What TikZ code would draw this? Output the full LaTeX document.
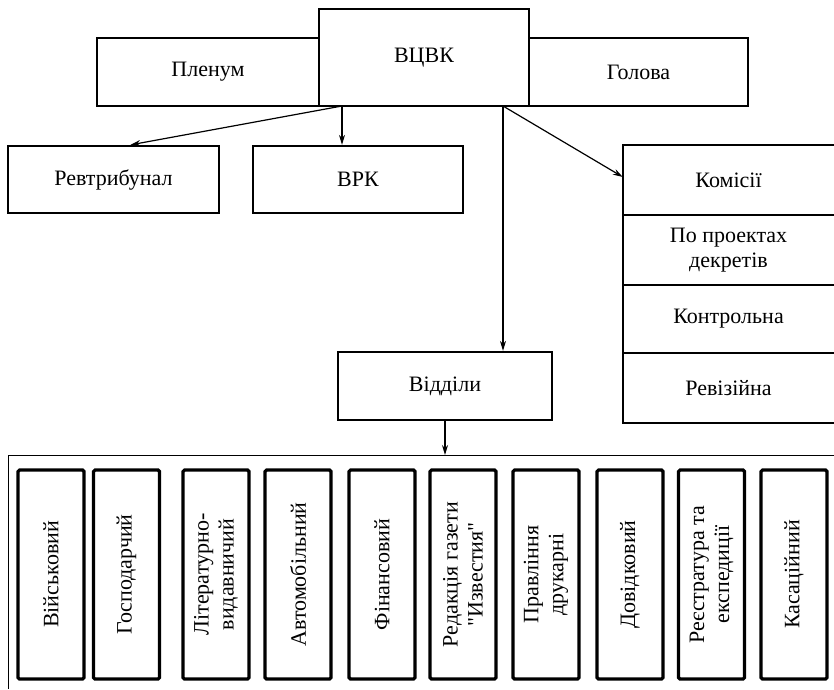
\documentclass[tikz,border=0pt]{standalone}
\usepackage{fontspec}
\setmainfont{Liberation Serif}
\usetikzlibrary{arrows.meta}
\begin{document}
\begin{tikzpicture}[x=1pt, y=-1pt, >={Stealth[length=10pt,width=6pt]},
  box/.style={draw, rectangle, line width=2.3pt, font=\fontsize{22}{25}\selectfont, inner sep=0pt},
  dept/.style={draw, rectangle, line width=3.2pt, rounded corners=1.5pt, rotate=90, minimum width=209pt, minimum height=66pt, align=center, font=\fontsize{22}{25}\selectfont, inner sep=0pt},
  cell/.style={rectangle, minimum width=211pt, align=center, font=\fontsize{22}{25}\selectfont, inner sep=0pt}]
\useasboundingbox (0,0) rectangle (834,689);
\node[box, minimum width=222pt, minimum height=68pt] (plenum) at (208,72) {Пленум};
\node[box, minimum width=219pt, minimum height=68pt] (holova) at (638.5,72) {Голова};
\node[box, minimum width=210pt, minimum height=97pt, fill=white] (vcvk) at (424,57.5) {ВЦВК};
\node[box, minimum width=211pt, minimum height=67pt] (revtr) at (113.5,179.5) {Ревтрибунал};
\node[box, minimum width=210pt, minimum height=67pt] (vrk) at (358,179.5) {ВРК};
\node[box, minimum width=214pt, minimum height=68pt] (vidily) at (445,386) {Відділи};

% комісії
\node[cell, minimum height=70pt] (kom) at (728.5,180) {Комісії};
\node[cell, minimum height=70pt] (kproj) at (728.5,250) {По проектах\\декретів};
\node[cell, minimum height=68pt] (kkontr) at (728.5,319) {Контрольна};
\node[cell, minimum height=70pt] (krev) at (728.5,388) {Ревізійна};
\draw[line width=2.3pt] (kom.north east) -- (kom.north west) -- (krev.south west) -- (krev.south east);
\draw[line width=2.3pt] (kom.south west) -- (kom.south east);
\draw[line width=1.8pt] (kproj.south west) -- (kproj.south east);
\draw[line width=1.8pt] (kkontr.south west) -- (kkontr.south east);

% рамка відділів
\coordinate (fr) at (8,455);
\draw[line width=1pt] (834,455) -- (fr) -- (8,689);
\node[dept] (d1) at (51,574.5) {Військовий};
\node[dept] (d2) at (126.5,574.5) {Господарчий};
\node[dept] (d3) at (216,574.5) {Літературно-\\видавничий};
\node[dept] (d4) at (298,574.5) {Автомобільний};
\node[dept] (d5) at (382,574.5) {Фінансовий};
\node[dept] (d6) at (463,574.5) {Редакція газети\\\textquotedbl Известия\textquotedbl};
\node[dept] (d7) at (546,574.5) {Правління\\друкарні};
\node[dept] (d8) at (630,574.5) {Довідковий};
\node[dept] (d9) at (711.5,574.5) {Реєстратура та\\експедиції};
\node[dept] (d10) at (794,574.5) {Касаційний};

\coordinate (vl) at (342,106);
\coordinate (vr) at (503,106);
\draw[->, line width=1.2pt] (vl) -- ([xshift=17pt]revtr.north);
\draw[->, line width=1.2pt] (vl) -- (vl |- vrk.north);
\draw[->, line width=1.2pt] (vr) -- (vr |- vidily.north);
\draw[->, line width=1.2pt] (vr) -- ([yshift=3pt]kom.west);
\draw[->, line width=1.2pt] (vidily.south) -- (vidily.south |- fr);
\end{tikzpicture}
\end{document}
